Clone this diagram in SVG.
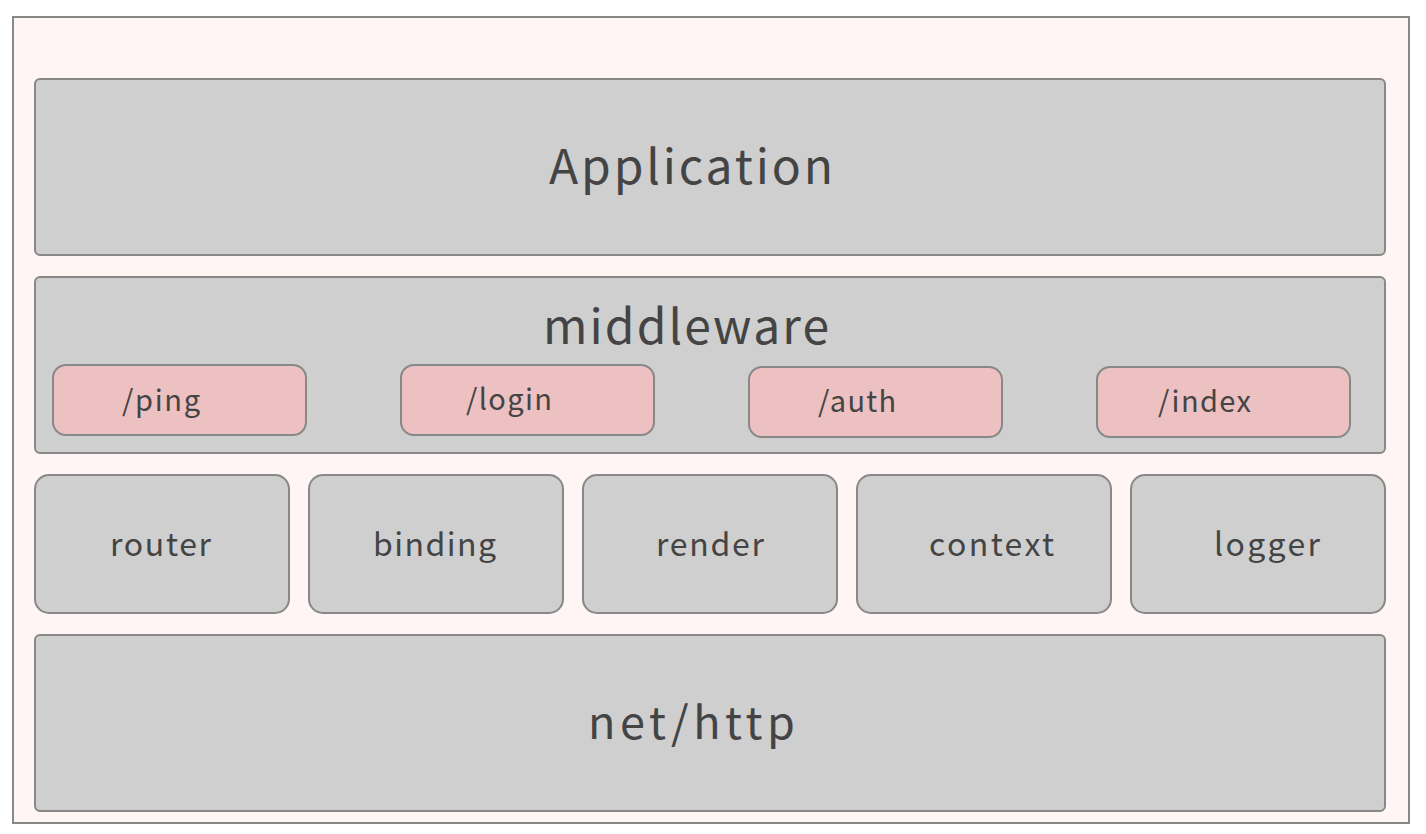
<svg xmlns="http://www.w3.org/2000/svg" width="1426" height="834" viewBox="0 0 1426 834">
<style>
.frame{fill:#fff5f5;stroke:#888;stroke-width:2}
.box{fill:#cfcfcf;stroke:#888;stroke-width:2}
.pill{fill:#edc0c1;stroke:#888;stroke-width:2}
text{font-family:"Noto Sans CJK JP","Noto Sans",sans-serif;fill:#444;lengthAdjust:spacing}
.big{font-size:48px}
.mid{font-size:45px}
.sm{font-size:32px}
.xs{font-size:29px}
</style>
<rect width="1426" height="834" fill="#ffffff"/>
<rect class="frame" x="13" y="17" width="1396" height="806"/>
<g id="application">
<rect class="box" x="35" y="79" width="1350" height="176" rx="5"/>
<text class="big" x="549" y="184" textLength="284" lengthAdjust="spacing">Application</text>
</g>
<g id="middleware">
<rect class="box" x="35" y="277" width="1350" height="176" rx="5"/>
<text class="big" x="543" y="344" textLength="286" lengthAdjust="spacing">middleware</text>
</g>
<g id="ping">
<rect class="pill" x="53" y="365" width="253" height="70" rx="13"/>
<text class="xs" x="122" y="411" textLength="78" lengthAdjust="spacing">/ping</text>
</g>
<g id="login">
<rect class="pill" x="401" y="365" width="253" height="70" rx="13"/>
<text class="xs" x="466" y="410" textLength="86" lengthAdjust="spacing">/login</text>
</g>
<g id="auth">
<rect class="pill" x="749" y="367" width="253" height="70" rx="13"/>
<text class="xs" x="818" y="412" textLength="78" lengthAdjust="spacing">/auth</text>
</g>
<g id="index">
<rect class="pill" x="1097" y="367" width="253" height="70" rx="13"/>
<text class="xs" x="1158" y="412" textLength="93" lengthAdjust="spacing">/index</text>
</g>
<g id="router">
<rect class="box" x="35" y="475" width="254" height="138" rx="14"/>
<text class="sm" x="110" y="556" textLength="101" lengthAdjust="spacing">router</text>
</g>
<g id="binding">
<rect class="box" x="309" y="475" width="254" height="138" rx="14"/>
<text class="sm" x="373" y="556" textLength="123" lengthAdjust="spacing">binding</text>
</g>
<g id="render">
<rect class="box" x="583" y="475" width="254" height="138" rx="14"/>
<text class="sm" x="656" y="556" textLength="108" lengthAdjust="spacing">render</text>
</g>
<g id="context">
<rect class="box" x="857" y="475" width="254" height="138" rx="14"/>
<text class="sm" x="929" y="556" textLength="125" lengthAdjust="spacing">context</text>
</g>
<g id="logger">
<rect class="box" x="1131" y="475" width="254" height="138" rx="14"/>
<text class="sm" x="1214" y="556" textLength="106" lengthAdjust="spacing">logger</text>
</g>
<g id="nethttp">
<rect class="box" x="35" y="635" width="1350" height="176" rx="5"/>
<text class="mid" x="588" y="739" textLength="207" lengthAdjust="spacing">net/http</text>
</g>
<g id="connectors"></g>
</svg>
